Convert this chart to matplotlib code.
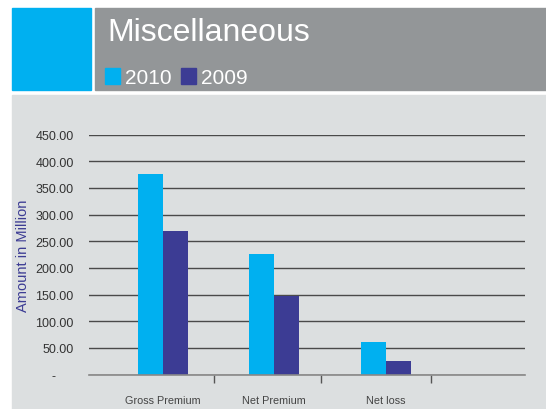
import matplotlib.pyplot as plt
from matplotlib.patches import Rectangle

plt.rcParams['font.family'] = ['Liberation Sans', 'DejaVu Sans']

# data
categories = ['Gross Premium', 'Net Premium', 'Net loss', '']
values_2010 = [376, 226, 61, 0]
values_2009 = [269, 148, 25, 0]
yticks = [0, 50, 100, 150, 200, 250, 300, 350, 400, 450]
ytick_labels = ['-     '] + ['%.2f' % v for v in yticks[1:]]

blue = '#00b0f0'
navy = '#3c3c94'
bg = '#dcdfe0'

fig = plt.figure(figsize=(5.46, 4.1), dpi=100)
fig.patch.set_facecolor('white')

# light panel behind the chart
fig.patches.append(Rectangle((12 / 546, 0), 534 / 546, (410 - 96) / 410,
                             transform=fig.transFigure, color=bg, zorder=0))
# header blocks
fig.patches.append(Rectangle((12 / 546, (410 - 91) / 410), 79 / 546, 82 / 410,
                             transform=fig.transFigure, color=blue, zorder=0))
fig.patches.append(Rectangle((95 / 546, (410 - 91) / 410), 451 / 546, 82 / 410,
                             transform=fig.transFigure, color='#939698', zorder=0))
fig.text(107 / 546, (410 - 41) / 410, 'Miscellaneous', color='white', fontsize=23,
         va='baseline')
# legend in header
fig.patches.append(Rectangle((105 / 546, (410 - 85) / 410), 15 / 546, 16 / 410,
                             transform=fig.transFigure, color=blue, zorder=1))
fig.text(125 / 546, (410 - 84) / 410, '2010', color='white', fontsize=15, va='baseline')
fig.patches.append(Rectangle((181 / 546, (410 - 85) / 410), 15 / 546, 16 / 410,
                             transform=fig.transFigure, color=navy, zorder=1))
fig.text(201 / 546, (410 - 84) / 410, '2009', color='white', fontsize=15, va='baseline')

ax = fig.add_axes([89 / 546, 34.5 / 410, 436 / 546, 239.8 / 410])
ax.set_facecolor('none')
ax.set_zorder(5)

x = list(range(len(categories)))
w = 0.224
ax.bar([i - w / 2 for i in x], values_2010, width=w, color=blue, zorder=3)
ax.bar([i + w / 2 for i in x], values_2009, width=w, color=navy, zorder=3)

ax.set_xlim(-0.66, 3.25)
ax.set_ylim(0, 450)
ax.set_yticks(yticks)
ax.set_yticklabels(ytick_labels)
ax.yaxis.grid(True, color='#4a4a4a', linewidth=1, zorder=1)
ax.tick_params(axis='y', length=0, pad=11, labelsize=9, labelcolor='#333333')

ax.set_xticks(x)
ax.set_xticklabels(categories)
ax.set_xticks([0.46, 1.42, 2.41], minor=True)
ax.tick_params(axis='x', which='major', length=0, pad=15, labelsize=7.8,
               labelcolor='#444444')
ax.tick_params(axis='x', which='minor', length=6, color='#555555', width=1)

for s in ['top', 'right', 'left']:
    ax.spines[s].set_visible(False)
ax.spines['bottom'].set_color('#888888')
ax.spines['bottom'].set_linewidth(1.2)
ax.spines['bottom'].set_zorder(4)

ax.set_ylabel('Amount in Million', color=navy, fontsize=10.5, labelpad=4)

fig.savefig('out.png', dpi=100)
